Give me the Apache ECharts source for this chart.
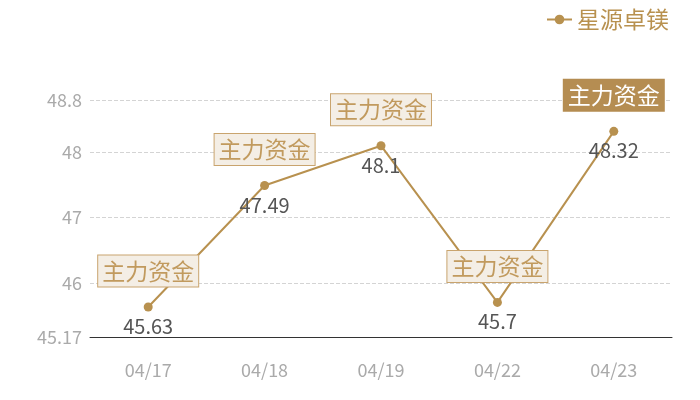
<!DOCTYPE html>
<html>
<head>
<meta charset="utf-8">
<script src="https://cdn.jsdelivr.net/npm/echarts@6/dist/echarts.min.js"></script>
<style>
    html, body { margin: 0; padding: 0; background: #fff; }
    #main { width: 700px; height: 400px; }
</style>
</head>
<body>
<div id="main"></div>
<script>
    var days = ['04/17', '04/18', '04/19', '04/22', '04/23'];
    var prices = [45.63, 47.49, 48.1, 45.7, 48.32];
    var tagText = '主力资金';
    var yMin = 45.17;
    var yMax = 48.8;

    var gold = '#b8914f';
    var font = 'Noto Sans CJK SC';

    // 标注框
    var marks = days.map(function (d, i) {
        var last = i === days.length - 1;
        return {
            coord: [d, prices[i]],
            label: {
                backgroundColor: last ? '#b58d52' : '#f4eee5',
                borderColor: last ? '#b58d52' : '#c9a46e',
                color: last ? '#fff' : '#c19a5e'
            }
        };
    });

    var chart = echarts.init(document.getElementById('main'));
    chart.setOption({
        backgroundColor: '#fff',
        textStyle: { fontFamily: font },
        legend: {
            right: 26,
            top: 3,
            itemWidth: 25,
            itemHeight: 12,
            itemGap: 6,
            textStyle: { color: gold, fontSize: 23, fontFamily: font }
        },
        grid: { left: 90, right: 28, top: 100, bottom: 63 },
        xAxis: {
            type: 'category',
            data: days,
            axisLine: { lineStyle: { color: '#333' } },
            axisTick: { show: false },
            axisLabel: { color: '#aaa', fontSize: 18, margin: 24 }
        },
        yAxis: {
            type: 'value',
            min: yMin,
            max: yMax,
            axisLine: { show: false },
            axisTick: { show: false },
            axisLabel: { color: '#aaa', fontSize: 18, margin: 8, showMinLabel: true, showMaxLabel: true },
            splitLine: { lineStyle: { color: '#d4d4d4', type: 'dashed' } }
        },
        series: [{
            name: '星源卓镁',
            type: 'line',
            data: prices,
            symbol: 'circle',
            symbolSize: 9,
            itemStyle: { color: gold },
            lineStyle: { color: gold, width: 2 },
            label: {
                show: true,
                position: 'bottom',
                distance: 5,
                color: '#555',
                fontSize: 20
            },
            markPoint: {
                symbol: 'circle',
                symbolSize: 0,
                label: {
                    show: true,
                    formatter: tagText,
                    fontSize: 23,
                    padding: [5, 4, 3, 4],
                    borderWidth: 1,
                    offset: [0, -36]
                },
                data: marks
            }
        }]
    });
</script>
</body>
</html>
